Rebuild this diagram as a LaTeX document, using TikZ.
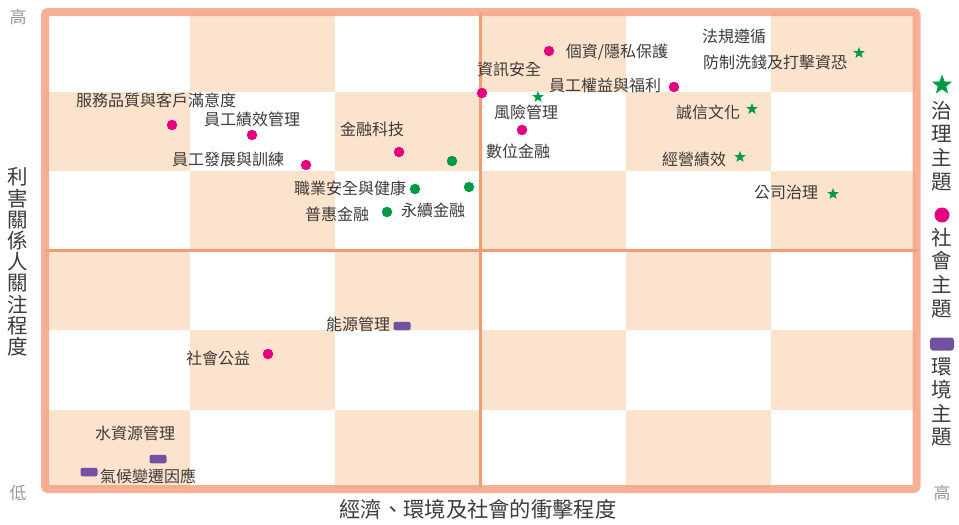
\documentclass[tikz,border=0pt]{standalone}
\usepackage{fontspec}
\setmainfont{Noto Sans CJK TC}
\usetikzlibrary{shapes.geometric}
\definecolor{peach}{HTML}{FBE3CD}
\definecolor{salmon}{HTML}{F4A285}
\definecolor{midorange}{HTML}{F39B73}
\definecolor{govgreen}{HTML}{009A44}
\definecolor{socpink}{HTML}{E4007F}
\definecolor{envpurple}{HTML}{7251A0}
\definecolor{txtgray}{HTML}{3E3A39}
\definecolor{endgray}{HTML}{9A9A9A}
\tikzset{
	govstar/.style={star, star points=5, star point ratio=2.4, fill=govgreen, inner sep=0pt, minimum size=12pt},
	socdot/.style={circle, fill=socpink, inner sep=0pt, minimum size=10.5pt},
	greendot/.style={circle, fill=govgreen, inner sep=0pt, minimum size=10.5pt},
	envbar/.style={rectangle, rounded corners=2pt, fill=envpurple, inner sep=0pt, minimum width=17pt, minimum height=8.5pt},
	topic/.style={text=txtgray, inner sep=0pt, font=\fontsize{16}{18}\selectfont},
	axistxt/.style={text=txtgray, inner sep=0pt, align=center, font=\fontsize{20.5}{21.2}\selectfont},
	legendtxt/.style={text=txtgray, inner sep=0pt, align=center, font=\fontsize{20.5}{23.6}\selectfont},
	endtxt/.style={text=endgray, inner sep=0pt, font=\fontsize{17}{17}\selectfont}
}

\begin{document}
\begin{tikzpicture}[x=1pt, y=-1pt]
		%%%%% START %%%%%
		\useasboundingbox (0, 0) rectangle (959, 525);
		
		% checkerboard
		\fill[peach] (190, 12) rectangle (335, 91.5);
		\fill[peach] (480.5, 12) rectangle (626, 91.5);
		\fill[peach] (771, 12) rectangle (916, 91.5);
		\fill[peach] (45, 91.5) rectangle (190, 171);
		\fill[peach] (335, 91.5) rectangle (480.5, 171);
		\fill[peach] (626, 91.5) rectangle (771, 171);
		\fill[peach] (190, 171) rectangle (335, 250.5);
		\fill[peach] (480.5, 171) rectangle (626, 250.5);
		\fill[peach] (771, 171) rectangle (916, 250.5);
		\fill[peach] (45, 250.5) rectangle (190, 330);
		\fill[peach] (335, 250.5) rectangle (480.5, 330);
		\fill[peach] (626, 250.5) rectangle (771, 330);
		\fill[peach] (190, 330) rectangle (335, 409.5);
		\fill[peach] (480.5, 330) rectangle (626, 409.5);
		\fill[peach] (771, 330) rectangle (916, 409.5);
		\fill[peach] (45, 409.5) rectangle (190, 489);
		\fill[peach] (335, 409.5) rectangle (480.5, 489);
		\fill[peach] (626, 409.5) rectangle (771, 489);
		
		\draw[line width=2.2pt, color=midorange] (480.5, 12) -- (480.5, 489);
		\draw[line width=2.2pt, color=midorange] (45, 250.5) -- (916.5, 250.5);
		\draw[line width=8pt, color=salmon, opacity=0.85, rounded corners=3pt] (45, 12) rectangle (916.5, 489);
		
		% governance
		\node[govstar] (aml-m) at (859, 53) {};
		\node[topic] (law) at (734, 36) {法規遵循};
		\node[topic] (aml) at (775, 62) {防制洗錢及打擊資恐};
		\node[govstar] (risk-m) at (538, 97) {};
		\node[topic] (risk) at (526, 112) {風險管理};
		\node[govstar] (integ-m) at (752, 109) {};
		\node[topic] (integ) at (708, 112) {誠信文化};
		\node[govstar] (oper-m) at (740, 157) {};
		\node[topic] (oper) at (694, 159) {經營績效};
		\node[govstar] (corp-m) at (833, 194) {};
		\node[topic] (corp) at (786, 192) {公司治理};
		
		% social
		\node[socdot] (priv-m) at (549, 51) {};
		\node[topic] (priv) at (617, 52) {個資/隱私保護};
		\node[socdot] (infosec-m) at (482, 93) {};
		\node[topic] (infosec) at (509, 69) {資訊安全};
		\node[socdot] (right-m) at (674, 87) {};
		\node[topic] (right) at (605, 85) {員工權益與福利};
		\node[socdot] (digi-m) at (522, 130) {};
		\node[topic] (digi) at (518, 151) {數位金融};
		\node[socdot] (svc-m) at (172, 125) {};
		\node[topic] (svc) at (156, 100) {服務品質與客戶滿意度};
		\node[socdot] (perf-m) at (252, 135) {};
		\node[topic] (perf) at (252, 119) {員工績效管理};
		\node[socdot] (fintech-m) at (399, 152) {};
		\node[topic] (fintech) at (372, 129) {金融科技};
		\node[socdot] (train-m) at (306, 165) {};
		\node[topic] (train) at (228, 159) {員工發展與訓練};
		\node[socdot] (charity-m) at (268, 354) {};
		\node[topic] (charity) at (218, 358) {社會公益};
		
		\node[greendot] (extra-m) at (452, 161) {};
		\node[greendot] (safety-m) at (415, 189) {};
		\node[topic] (safety) at (350, 188) {職業安全與健康};
		\node[greendot] (sustfin-m) at (469, 187) {};
		\node[topic] (sustfin) at (433, 210) {永續金融};
		\node[greendot] (incl-m) at (387, 212) {};
		\node[topic] (incl) at (337, 214) {普惠金融};
		
		% environment
		\node[envbar] (energy-m) at (402, 326) {};
		\node[topic] (energy) at (358, 324) {能源管理};
		\node[envbar] (water-m) at (158, 459) {};
		\node[topic] (water) at (135, 433) {水資源管理};
		\node[envbar] (climate-m) at (89, 472) {};
		\node[topic] (climate) at (148, 476) {氣候變遷因應};
		
		% axes
		\node[endtxt] (yhigh) at (18, 17) {高};
		\node[endtxt] (ylow) at (18, 493) {低};
		\node[endtxt] (xhigh) at (942, 493) {高};
		\node[axistxt] (ytitle) at (18, 262) {利\\害\\關\\係\\人\\關\\注\\程\\度};
		\node[axistxt, font=\fontsize{21.3}{22}\selectfont] (xtitle) at (478, 509) {經濟、環境及社會的衝擊程度};
		
		% legend
		\node[govstar, minimum size=21pt] (gov-key) at (942, 85) {};
		\node[legendtxt] (gov-txt) at (942, 146) {治\\理\\主\\題};
		\node[socdot, minimum size=15pt] (soc-key) at (942, 215) {};
		\node[legendtxt] (soc-txt) at (942, 273) {社\\會\\主\\題};
		\node[envbar, minimum width=24pt, minimum height=13pt, rounded corners=3pt] (env-key) at (942, 344) {};
		\node[legendtxt] (env-txt) at (942, 402) {環\\境\\主\\題};
		%%%%% END %%%%%
\end{tikzpicture}
\end{document}
